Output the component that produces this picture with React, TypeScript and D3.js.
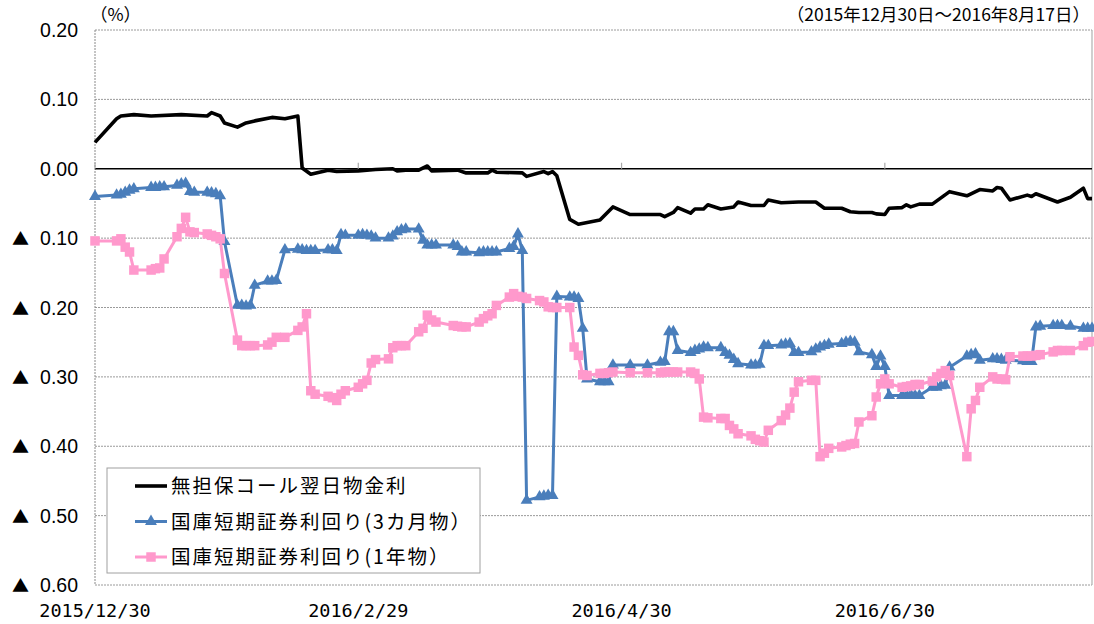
import React from "react";
import * as d3 from "d3";

// 無担保コール翌日物金利
const callRate: [string, number][] = [
  ["12/30", 0.038], ["1/4", 0.072], ["1/5", 0.076], ["1/8", 0.078], ["1/12", 0.076], ["1/19", 0.078],
  ["1/25", 0.076], ["1/26", 0.081], ["1/28", 0.076], ["1/29", 0.066], ["2/1", 0.06], ["2/3", 0.066],
  ["2/5", 0.069], ["2/9", 0.074], ["2/12", 0.072], ["2/15", 0.076], ["2/16", 0.001], ["2/18", -0.008],
  ["2/22", -0.002], ["2/24", -0.004], ["2/29", -0.003], ["3/4", -0.001], ["3/8", 0.0], ["3/9", -0.003],
  ["3/11", -0.002], ["3/14", -0.002], ["3/16", 0.004], ["3/17", -0.003], ["3/23", -0.002], ["3/25", -0.006],
  ["3/30", -0.006], ["3/31", -0.002], ["4/1", -0.005], ["4/7", -0.006], ["4/8", -0.011], ["4/12", -0.004],
  ["4/13", -0.007], ["4/14", -0.004], ["4/15", -0.01], ["4/18", -0.073], ["4/20", -0.08], ["4/25", -0.074],
  ["4/28", -0.055], ["5/2", -0.066], ["5/9", -0.066], ["5/10", -0.069], ["5/12", -0.063], ["5/13", -0.056],
  ["5/16", -0.064], ["5/17", -0.058], ["5/19", -0.058], ["5/20", -0.052], ["5/23", -0.058], ["5/26", -0.055],
  ["5/27", -0.048], ["5/30", -0.053], ["6/2", -0.053], ["6/3", -0.045], ["6/6", -0.049], ["6/10", -0.048],
  ["6/14", -0.048], ["6/16", -0.057], ["6/20", -0.057], ["6/22", -0.062], ["6/24", -0.063], ["6/27", -0.063],
  ["6/28", -0.065], ["6/30", -0.066], ["7/1", -0.057], ["7/4", -0.056], ["7/5", -0.052], ["7/6", -0.055],
  ["7/8", -0.051], ["7/11", -0.051], ["7/15", -0.033], ["7/19", -0.039], ["7/22", -0.03], ["7/25", -0.032],
  ["7/26", -0.027], ["7/27", -0.028], ["7/29", -0.045], ["8/2", -0.038], ["8/3", -0.04], ["8/4", -0.036],
  ["8/9", -0.048], ["8/12", -0.041], ["8/15", -0.028], ["8/16", -0.043], ["8/17", -0.043],
];

// 国庫短期証券利回り(3カ月物)
const bill3m: [string, number][] = [
  ["12/30", -0.04], ["1/4", -0.038], ["1/5", -0.037], ["1/6", -0.034], ["1/7", -0.031], ["1/8", -0.029],
  ["1/12", -0.027], ["1/13", -0.027], ["1/14", -0.026], ["1/15", -0.026], ["1/18", -0.024], ["1/19", -0.022],
  ["1/20", -0.021], ["1/21", -0.033], ["1/22", -0.034], ["1/25", -0.034], ["1/26", -0.035], ["1/27", -0.036],
  ["1/28", -0.039], ["1/29", -0.105], ["2/1", -0.197], ["2/2", -0.197], ["2/3", -0.198], ["2/4", -0.197],
  ["2/5", -0.168], ["2/8", -0.162], ["2/9", -0.162], ["2/10", -0.161], ["2/12", -0.117], ["2/15", -0.116],
  ["2/16", -0.117], ["2/17", -0.118], ["2/18", -0.118], ["2/19", -0.118], ["2/22", -0.117], ["2/23", -0.117],
  ["2/24", -0.118], ["2/25", -0.095], ["2/26", -0.096], ["2/29", -0.096], ["3/1", -0.095], ["3/2", -0.096],
  ["3/3", -0.097], ["3/4", -0.1], ["3/7", -0.1], ["3/8", -0.097], ["3/9", -0.091], ["3/10", -0.088],
  ["3/11", -0.087], ["3/14", -0.087], ["3/15", -0.103], ["3/16", -0.11], ["3/17", -0.11], ["3/18", -0.11],
  ["3/22", -0.11], ["3/23", -0.112], ["3/24", -0.12], ["3/25", -0.12], ["3/28", -0.121], ["3/29", -0.12],
  ["3/30", -0.12], ["3/31", -0.12], ["4/1", -0.12], ["4/4", -0.115], ["4/5", -0.112], ["4/6", -0.094],
  ["4/7", -0.118], ["4/8", -0.478], ["4/11", -0.473], ["4/12", -0.472], ["4/13", -0.471], ["4/14", -0.471],
  ["4/15", -0.184], ["4/18", -0.185], ["4/19", -0.185], ["4/20", -0.187], ["4/21", -0.23], ["4/22", -0.303],
  ["4/25", -0.307], ["4/26", -0.307], ["4/27", -0.307], ["4/28", -0.283], ["5/2", -0.283], ["5/6", -0.283],
  ["5/9", -0.279], ["5/10", -0.278], ["5/11", -0.235], ["5/12", -0.235], ["5/13", -0.262], ["5/16", -0.265],
  ["5/17", -0.262], ["5/18", -0.26], ["5/19", -0.257], ["5/20", -0.258], ["5/23", -0.258], ["5/24", -0.265],
  ["5/25", -0.269], ["5/26", -0.275], ["5/27", -0.281], ["5/30", -0.283], ["5/31", -0.283], ["6/1", -0.282],
  ["6/2", -0.255], ["6/3", -0.255], ["6/6", -0.254], ["6/7", -0.253], ["6/8", -0.252], ["6/9", -0.265],
  ["6/10", -0.265], ["6/13", -0.264], ["6/14", -0.26], ["6/15", -0.257], ["6/16", -0.255], ["6/17", -0.253],
  ["6/20", -0.252], ["6/21", -0.25], ["6/22", -0.249], ["6/23", -0.25], ["6/24", -0.264], ["6/27", -0.268],
  ["6/28", -0.285], ["6/29", -0.27], ["6/30", -0.285], ["7/1", -0.327], ["7/4", -0.327], ["7/5", -0.327],
  ["7/6", -0.326], ["7/7", -0.327], ["7/8", -0.327], ["7/11", -0.315], ["7/12", -0.315], ["7/13", -0.313],
  ["7/14", -0.312], ["7/15", -0.286], ["7/19", -0.27], ["7/20", -0.268], ["7/21", -0.267], ["7/22", -0.276],
  ["7/25", -0.274], ["7/26", -0.274], ["7/27", -0.275], ["7/28", -0.276], ["8/1", -0.277], ["8/2", -0.278],
  ["8/3", -0.278], ["8/4", -0.228], ["8/5", -0.227], ["8/8", -0.226], ["8/9", -0.226], ["8/10", -0.226],
  ["8/12", -0.227], ["8/15", -0.23], ["8/16", -0.23], ["8/17", -0.23],
];

// 国庫短期証券利回り(1年物)
const bill1y: [string, number][] = [
  ["12/30", -0.104], ["1/4", -0.104], ["1/5", -0.101], ["1/6", -0.113], ["1/7", -0.12], ["1/8", -0.146],
  ["1/12", -0.146], ["1/13", -0.144], ["1/14", -0.143], ["1/15", -0.13], ["1/18", -0.098], ["1/19", -0.086],
  ["1/20", -0.07], ["1/21", -0.091], ["1/22", -0.092], ["1/25", -0.094], ["1/26", -0.096], ["1/27", -0.098],
  ["1/28", -0.101], ["1/29", -0.151], ["2/1", -0.247], ["2/2", -0.255], ["2/3", -0.255], ["2/4", -0.255],
  ["2/5", -0.255], ["2/8", -0.254], ["2/9", -0.25], ["2/10", -0.243], ["2/12", -0.243], ["2/15", -0.233],
  ["2/16", -0.228], ["2/17", -0.209], ["2/18", -0.32], ["2/19", -0.325], ["2/22", -0.328], ["2/23", -0.33],
  ["2/24", -0.334], ["2/25", -0.325], ["2/26", -0.32], ["2/29", -0.315], ["3/1", -0.31], ["3/2", -0.305],
  ["3/3", -0.28], ["3/4", -0.275], ["3/7", -0.274], ["3/8", -0.258], ["3/9", -0.255], ["3/10", -0.255],
  ["3/11", -0.255], ["3/14", -0.235], ["3/15", -0.23], ["3/16", -0.211], ["3/17", -0.218], ["3/18", -0.221],
  ["3/22", -0.226], ["3/23", -0.227], ["3/24", -0.228], ["3/25", -0.228], ["3/28", -0.221], ["3/29", -0.216],
  ["3/30", -0.212], ["3/31", -0.209], ["4/1", -0.197], ["4/4", -0.185], ["4/5", -0.18], ["4/6", -0.184],
  ["4/7", -0.185], ["4/8", -0.187], ["4/11", -0.19], ["4/12", -0.192], ["4/13", -0.199], ["4/14", -0.2],
  ["4/15", -0.2], ["4/18", -0.2], ["4/19", -0.257], ["4/20", -0.269], ["4/21", -0.297], ["4/22", -0.298],
  ["4/25", -0.295], ["4/26", -0.295], ["4/27", -0.294], ["4/28", -0.293], ["5/2", -0.294], ["5/6", -0.294],
  ["5/9", -0.294], ["5/10", -0.293], ["5/11", -0.293], ["5/12", -0.293], ["5/13", -0.293], ["5/16", -0.293],
  ["5/17", -0.295], ["5/18", -0.303], ["5/19", -0.358], ["5/20", -0.359], ["5/23", -0.36], ["5/24", -0.36],
  ["5/25", -0.37], ["5/26", -0.375], ["5/27", -0.382], ["5/30", -0.385], ["5/31", -0.39], ["6/1", -0.392],
  ["6/2", -0.394], ["6/3", -0.377], ["6/6", -0.363], ["6/7", -0.355], ["6/8", -0.345], ["6/9", -0.322],
  ["6/10", -0.307], ["6/13", -0.305], ["6/14", -0.305], ["6/15", -0.415], ["6/16", -0.41], ["6/17", -0.403],
  ["6/20", -0.401], ["6/21", -0.399], ["6/22", -0.397], ["6/23", -0.396], ["6/24", -0.365], ["6/27", -0.356],
  ["6/28", -0.329], ["6/29", -0.31], ["6/30", -0.303], ["7/1", -0.31], ["7/4", -0.315], ["7/5", -0.314],
  ["7/6", -0.313], ["7/7", -0.311], ["7/8", -0.311], ["7/11", -0.306], ["7/12", -0.3], ["7/13", -0.295],
  ["7/14", -0.291], ["7/15", -0.298], ["7/19", -0.415], ["7/20", -0.346], ["7/21", -0.334], ["7/22", -0.315],
  ["7/25", -0.3], ["7/26", -0.303], ["7/27", -0.303], ["7/28", -0.304], ["7/29", -0.271], ["8/1", -0.27],
  ["8/2", -0.27], ["8/3", -0.27], ["8/4", -0.269], ["8/5", -0.268], ["8/8", -0.264], ["8/9", -0.262],
  ["8/10", -0.262], ["8/12", -0.262], ["8/15", -0.255], ["8/16", -0.25], ["8/17", -0.249],
];

const xTickLabels = ["2015/12/30", "2016/2/29", "2016/4/30", "2016/6/30"];
const yTicks = [0.2, 0.1, 0, -0.1, -0.2, -0.3, -0.4, -0.5, -0.6];
const seriesNames = ["無担保コール翌日物金利", "国庫短期証券利回り(3カ月物）", "国庫短期証券利回り(1年物）"];

const BLUE = "#4a7ebb";
const PINK = "#ff99cc";

function parseDay(s: string): Date {
  const [m, d] = s.split("/").map(Number);
  return new Date(m === 12 ? 2015 : 2016, m - 1, d);
}

export default function App() {
  const W = 1094, H = 624;
  const left = 95, right = 1092, top = 30, bottom = 585;

  const x = d3.scaleTime()
    .domain([new Date(2015, 11, 30), new Date(2016, 7, 17)])
    .range([left, right]);
  const y = d3.scaleLinear().domain([-0.6, 0.2]).range([bottom, top]);

  const line = d3.line<[string, number]>()
    .x(d => x(parseDay(d[0])))
    .y(d => y(d[1]));

  const tri = d3.symbol(d3.symbolTriangle, 62)();
  const sq = d3.symbol(d3.symbolSquare, 90)();

  const tickDates = xTickLabels.map(s => d3.timeParse("%Y/%m/%d")(s) as Date);
  const numFont = "'Liberation Sans', Arial, sans-serif";
  const jpFont = "'Noto Sans CJK JP', sans-serif";

  return (
    <svg width={W} height={H} style={{ position: "absolute", left: 0, top: 0, background: "#fff" }}>
      {/* grid */}
      {yTicks.map(t => t !== 0 && (
        <line key={t} x1={left} x2={right} y1={y(t)} y2={y(t)}
          stroke="#9a9a9a" strokeWidth={1} strokeDasharray="2,1" />
      ))}
      <line x1={left} x2={left} y1={top} y2={bottom} stroke="#8a8a8a" strokeWidth={1} strokeDasharray="2,1" />
      <line x1={right} x2={right} y1={top} y2={bottom} stroke="#b0b0b0" strokeWidth={1.2} />
      <line x1={left} x2={right} y1={y(0)} y2={y(0)} stroke="#000" strokeWidth={1.3} />
      {tickDates.map((d, i) => (
        <line key={i} x1={x(d)} x2={x(d)} y1={y(0) - 6} y2={y(0)} stroke="#aaa" strokeWidth={1.2} />
      ))}

      {/* y labels */}
      {yTicks.map(t => (
        <g key={t}>
          {t < 0 && (
            <text x={12} y={y(t) + 7} fontSize={17} fontFamily={jpFont}>▲</text>
          )}
          <text x={78} y={y(t) + 7} textAnchor="end" fontSize={19.5} fontFamily={numFont}>
            {Math.abs(t).toFixed(2)}
          </text>
        </g>
      ))}

      {/* x labels */}
      {tickDates.map((d, i) => (
        <text key={i} x={x(d)} y={617} textAnchor="middle" fontSize={18.5}
          fontFamily="'DejaVu Sans Mono', monospace">{xTickLabels[i]}</text>
      ))}

      <text x={90} y={21} fontSize={17.5} fontFamily={jpFont}>（%）</text>
      <text x={1090} y={21} textAnchor="end" fontSize={17.5} fontFamily={jpFont}>
        （2015年12月30日～2016年8月17日）
      </text>

      {/* series */}
      <path d={line(callRate) || ""} fill="none" stroke="#000" strokeWidth={3.6} strokeLinejoin="round" />
      <path d={line(bill3m) || ""} fill="none" stroke={BLUE} strokeWidth={3} strokeLinejoin="round" />
      {bill3m.map((d, i) => (
        <path key={i} d={tri || ""} fill={BLUE}
          transform={`translate(${x(parseDay(d[0]))},${y(d[1])})`} />
      ))}
      <path d={line(bill1y) || ""} fill="none" stroke={PINK} strokeWidth={3} strokeLinejoin="round" />
      {bill1y.map((d, i) => (
        <path key={i} d={sq || ""} fill={PINK}
          transform={`translate(${x(parseDay(d[0]))},${y(d[1])})`} />
      ))}

      {/* legend */}
      <rect x={107} y={468} width={373} height={105} fill="#fff" stroke="#a0a0a0" strokeWidth={1} />
      {seriesNames.map((name, i) => {
        const ly = 486 + i * 35.5;
        return (
          <g key={name}>
            <line x1={135} x2={167} y1={ly} y2={ly}
              stroke={i === 0 ? "#000" : i === 1 ? BLUE : PINK} strokeWidth={i === 0 ? 3.6 : 3} />
            {i === 1 && <path d={tri || ""} fill={BLUE} transform={`translate(151,${ly})`} />}
            {i === 2 && <path d={sq || ""} fill={PINK} transform={`translate(151,${ly})`} />}
            <text x={171} y={ly + 7} fontSize={19.5} letterSpacing={2} fontFamily={jpFont}>{name}</text>
          </g>
        );
      })}
    </svg>
  );
}
